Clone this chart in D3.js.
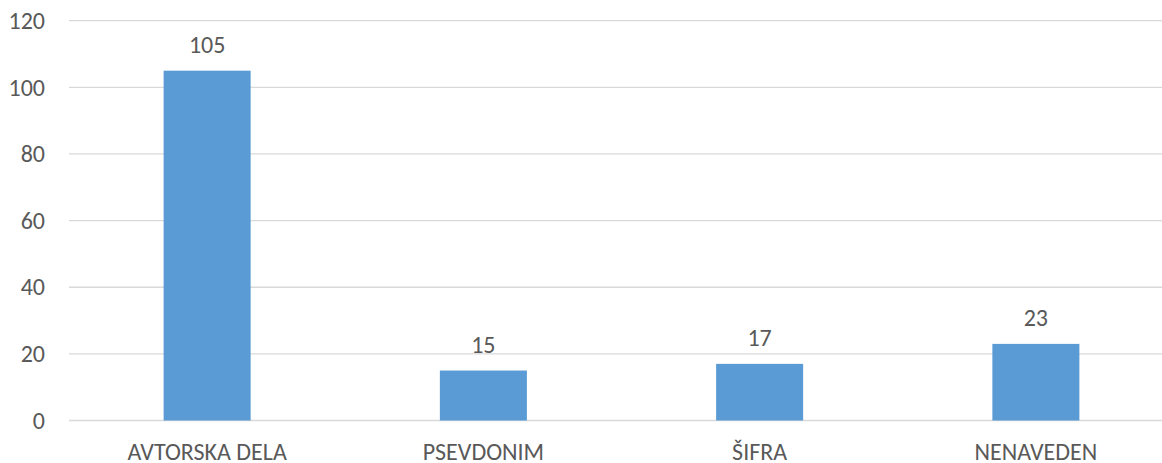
<!DOCTYPE html>
<html>
<head>
<meta charset="utf-8">
<script src="https://cdn.jsdelivr.net/npm/d3@7"></script>
<style>
  body { margin: 0; background: #fff; }
  svg text { font-family: Carlito, "Liberation Sans", sans-serif; fill: #595959; }
</style>
</head>
<body>
<div id="chart"></div>
<script>
var categories = ["AVTORSKA DELA", "PSEVDONIM", "ŠIFRA", "NENAVEDEN"];
var values = [105, 15, 17, 23];
var yTicks = [0, 20, 40, 60, 80, 100, 120];

var width = 1162, height = 463;
var plotLeft = 69, plotRight = 1174, plotTop = 20.7, plotBottom = 420.5;
var fontSize = 24;

var svg = d3.select("#chart").append("svg")
  .attr("width", width)
  .attr("height", height);

var x = d3.scaleBand().domain(categories).range([plotLeft, plotRight])
  .paddingInner(0.685).paddingOuter(0.3425);
var y = d3.scaleLinear().domain([0, 120]).range([plotBottom, plotTop]);

// gridlines
svg.append("g").selectAll("line").data(yTicks).enter().append("line")
  .attr("x1", plotLeft).attr("x2", plotRight)
  .attr("y1", d => y(d)).attr("y2", d => y(d))
  .attr("stroke", "#d9d9d9").attr("stroke-width", 1.3);

// y axis labels
var yAxis = d3.axisLeft(y).tickValues(yTicks).tickSize(0).tickPadding(0);
var ya = svg.append("g").attr("transform", "translate(45,0)").call(yAxis);
ya.select(".domain").remove();
ya.attr("font-family", null).attr("font-size", null);
ya.selectAll("text").attr("font-size", fontSize).attr("fill", "#595959");

// bars
svg.append("g").selectAll("rect").data(values).enter().append("rect")
  .attr("x", (d, i) => x(categories[i]))
  .attr("width", x.bandwidth())
  .attr("y", d => y(d))
  .attr("height", d => y(0) - y(d))
  .attr("fill", "#5b9bd5");

// data labels
svg.append("g").selectAll("text").data(values).enter().append("text")
  .attr("x", (d, i) => x(categories[i]) + x.bandwidth() / 2)
  .attr("y", d => y(d) - 18)
  .attr("text-anchor", "middle")
  .attr("font-size", fontSize)
  .text(d => d);

// category labels
var xAxis = d3.axisBottom(x).tickSize(0).tickPadding(0);
var xa = svg.append("g").attr("transform", "translate(0," + plotBottom + ")").call(xAxis);
xa.select(".domain").remove();
xa.attr("font-family", null).attr("font-size", null);
xa.selectAll("text").attr("font-size", fontSize).attr("fill", "#595959")
  .attr("dy", null).attr("y", 39);
</script>
</body>
</html>
